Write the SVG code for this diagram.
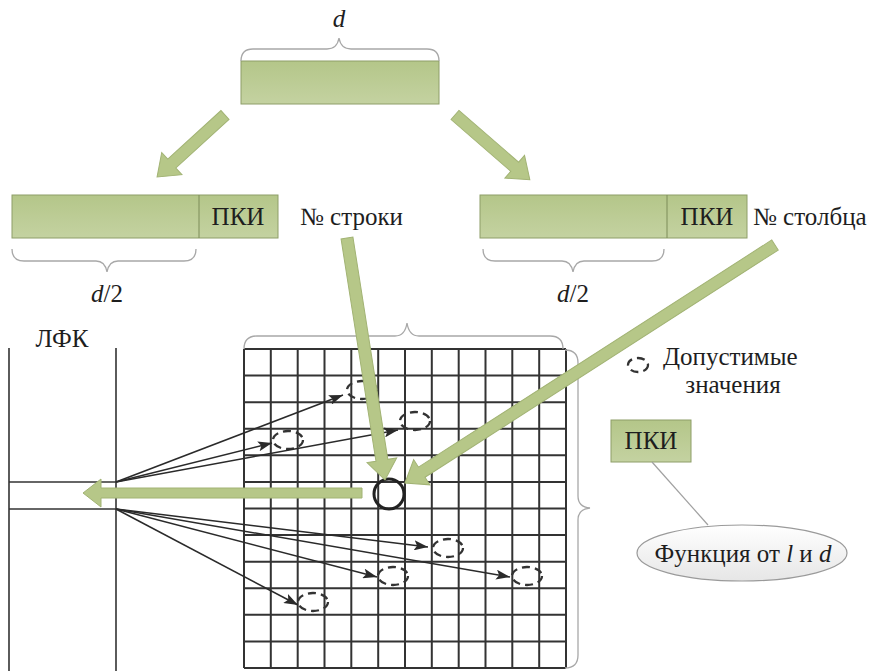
<svg xmlns="http://www.w3.org/2000/svg" width="884" height="671" viewBox="0 0 884 671">
<defs>
<linearGradient id="gbar" x1="0" y1="0" x2="0" y2="1">
<stop offset="0" stop-color="#b4c689"/>
<stop offset="1" stop-color="#c4d2a1"/>
</linearGradient>
<linearGradient id="gell" x1="0" y1="0" x2="0" y2="1">
<stop offset="0" stop-color="#ffffff"/>
<stop offset="1" stop-color="#e6e6e6"/>
</linearGradient>
<marker id="ah" viewBox="0 0 14 10" refX="14" refY="5" markerWidth="14" markerHeight="10" markerUnits="userSpaceOnUse" orient="auto">
<path d="M0,0 L14,5 L0,10 L3,5 z" fill="#2a2a2a"/>
</marker>
</defs>
<style>
text{font-family:'Liberation Serif','Times New Roman',serif;font-size:25px;fill:#1e1e1e}
.i{font-style:italic}
.bar{fill:url(#gbar);stroke:#8e9e68;stroke-width:1}
.div{stroke:#7d8c58;stroke-width:1}
.brace{fill:none;stroke:#a8a8a8;stroke-width:1.3}
.grid{stroke:#333;stroke-width:2;fill:none}
.lfk{stroke:#333;stroke-width:1.6;fill:none}
.garrow{fill:#b6c788;stroke:#a2b374;stroke-width:1}
.blk{stroke:#2a2a2a;stroke-width:1.5;fill:none;marker-end:url(#ah)}
.dash{fill:none;stroke:#333;stroke-width:2.3;stroke-dasharray:8 5}
</style>

<g id="top-bar">
<rect class="bar" x="241" y="61" width="198" height="43"/>
<path class="brace" d="M241,61 Q241,49 253,49 L327,49 Q337,49 339,38 Q341,49 351,49 L427,49 Q439,49 439,61"/>
<text class="i" x="339" y="27" text-anchor="middle">d</text>
</g>

<g id="left-bar">
<rect class="bar" x="12" y="195" width="266" height="43"/>
<line class="div" x1="199" y1="195" x2="199" y2="238"/>
<text x="238" y="225" text-anchor="middle">ПКИ</text>
<path class="brace" d="M12,249 Q12,261 24,261 L96,261 Q105,261 107,272 Q109,261 118,261 L184,261 Q196,261 196,249"/>
<text x="107" y="302" text-anchor="middle"><tspan class="i">d</tspan>/2</text>
</g>

<g id="right-bar">
<rect class="bar" x="480" y="195" width="267" height="43"/>
<line class="div" x1="667" y1="195" x2="667" y2="238"/>
<text x="707" y="225" text-anchor="middle">ПКИ</text>
<path class="brace" d="M483,249 Q483,261 495,261 L562,261 Q571,261 573,272 Q575,261 584,261 L652,261 Q664,261 664,249"/>
<text x="573" y="302" text-anchor="middle"><tspan class="i">d</tspan>/2</text>
</g>

<g id="row-label"><text x="300" y="225">№ строки</text></g>
<g id="col-label"><text x="753" y="225">№ столбца</text></g>

<g id="lfk">
<line class="lfk" x1="9" y1="348" x2="9" y2="671"/>
<line class="lfk" x1="116" y1="348" x2="116" y2="671"/>
<line class="lfk" x1="9" y1="482" x2="116" y2="482"/>
<line class="lfk" x1="9" y1="509" x2="116" y2="509"/>
<text x="62" y="347" text-anchor="middle">ЛФК</text>
</g>

<g id="matrix">
<path class="grid" d="M244,349 V668 M270.8,349 V668 M297.7,349 V668 M324.5,349 V668 M351.3,349 V668 M378.2,349 V668 M405,349 V668 M431.8,349 V668 M458.7,349 V668 M485.5,349 V668 M512.3,349 V668 M539.2,349 V668 M566,349 V668"/>
<path class="grid" d="M244,349 H566 M244,375.6 H566 M244,402.2 H566 M244,428.8 H566 M244,455.3 H566 M244,481.9 H566 M244,508.5 H566 M244,535.1 H566 M244,561.7 H566 M244,588.3 H566 M244,614.8 H566 M244,641.4 H566 M244,668 H566"/>
<path class="brace" d="M244,349 Q244,336 257,336 L395,336 Q405,336 407,323 Q409,336 419,336 L550,336 Q563,336 563,349"/>
<path class="brace" d="M565,350 Q578,350 578,363 L578,496 Q578,507 590,508 Q578,509 578,520 L578,655 Q578,668 565,668"/>
</g>

<g id="allowed-values">
<ellipse class="dash" cx="362" cy="390" rx="15" ry="9"/>
<ellipse class="dash" cx="415" cy="421" rx="15" ry="9"/>
<ellipse class="dash" cx="288" cy="440" rx="15" ry="9"/>
<ellipse class="dash" cx="448" cy="548" rx="15" ry="9"/>
<ellipse class="dash" cx="393" cy="576" rx="15" ry="9"/>
<ellipse class="dash" cx="527" cy="576" rx="15" ry="9"/>
<ellipse class="dash" cx="313" cy="602" rx="15" ry="9"/>
</g>

<g id="target-cell">
<circle cx="389" cy="494" r="15" fill="none" stroke="#222" stroke-width="3"/>
</g>

<g id="legend">
<ellipse class="dash" cx="638" cy="365" rx="10" ry="7" stroke-dasharray="5 4"/>
<text x="663" y="365">Допустимые</text>
<text x="733" y="393" text-anchor="middle">значения</text>
</g>

<g id="pki-box">
<rect class="bar" x="611" y="420" width="80" height="42" stroke="#a0a890"/>
<text x="651" y="449" text-anchor="middle">ПКИ</text>
</g>

<g id="function-node">
<ellipse cx="742" cy="553" rx="105" ry="28" fill="url(#gell)" stroke="#9a9a9a" stroke-width="1.2"/>
<text x="743" y="562" text-anchor="middle">Функция от <tspan class="i">l</tspan> и <tspan class="i">d</tspan></text>
</g>

<g id="connectors">
<line x1="652" y1="462" x2="708" y2="525" stroke="#a0a0a0" stroke-width="1.2"/>
<line class="blk" x1="116" y1="482" x2="343" y2="395"/>
<line class="blk" x1="116" y1="482" x2="398" y2="430"/>
<line class="blk" x1="116" y1="482" x2="272" y2="443"/>
<line class="blk" x1="116" y1="509" x2="428" y2="547"/>
<line class="blk" x1="116" y1="509" x2="377" y2="577"/>
<line class="blk" x1="116" y1="509" x2="510" y2="577"/>
<line class="blk" x1="116" y1="509" x2="298" y2="605"/>
<g transform="translate(225,115) rotate(137.6)"><path class="garrow" d="M0,-6 L72,-6 L72,-15 L92,0 L72,15 L72,6 L0,6 z"/></g>
<g transform="translate(455,115) rotate(40.9)"><path class="garrow" d="M0,-6 L79,-6 L79,-15 L99,0 L79,15 L79,6 L0,6 z"/></g>
<g transform="translate(347,238) rotate(81.08)"><path class="garrow" d="M0,-6 L225,-6 L225,-15 L245,0 L225,15 L225,6 L0,6 z"/></g>
<g transform="translate(775,245) rotate(147.25)"><path class="garrow" d="M0,-6 L420,-6 L420,-15 L440,0 L420,15 L420,6 L0,6 z"/></g>
<g transform="translate(362,493) rotate(180)"><path class="garrow" d="M0,-5 L261,-5 L261,-14 L279,0 L261,14 L261,5 L0,5 z"/></g>
</g>
</svg>
